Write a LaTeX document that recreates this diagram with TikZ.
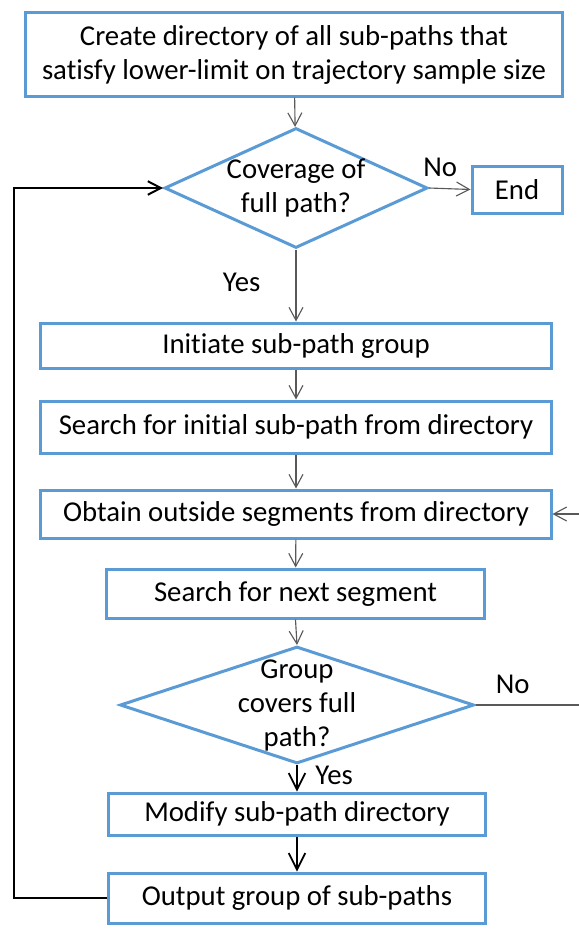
\documentclass[tikz,border=0pt]{standalone}
\usepackage{fontspec}
\setmainfont{Carlito}[Ligatures=NoCommon]
\usepackage{tikz}
\usetikzlibrary{arrows.meta,shapes.geometric}
\definecolor{boxblue}{RGB}{91,155,213}
\definecolor{linegray}{RGB}{89,89,89}
\tikzset{
  procbox/.style ={rectangle,draw=boxblue,line width=1.2pt,inner sep=0pt,align=center},
  decide/.style  ={diamond,draw=boxblue,line width=1.2pt,inner sep=0pt},
  dectext/.style ={align=center,inner sep=0pt},
  flow/.style    ={linegray,line width=0.45pt,-{Straight Barb[length=5.2pt,width=5.6pt]}},
  strong/.style  ={black,line width=0.7pt,-{Straight Barb[length=6.6pt,width=6.6pt]}},
  loopback/.style={black,line width=0.8pt,-{Straight Barb[length=5.2pt,width=5.4pt]}},
  answer/.style  ={inner sep=0pt,text=black},
}

\begin{document}
\begin{tikzpicture}[x=0.4pt,y=-0.4pt,font=\fontsize{11.5}{13.6}\selectfont]
  \useasboundingbox (0,0) rectangle (579,933);
  % steps and decisions
  \node[procbox,minimum width=214.4pt,minimum height=33.2pt] (create) at (294,54.5)
    {Create directory of all sub-paths that\\satisfy lower-limit on trajectory sample size};
  \node[decide,minimum width=105.2pt,minimum height=48pt,
        label={[dectext]center:{Coverage of\\full path?}}] (cover) at (296,188) {};
  \node[procbox,minimum width=36pt,minimum height=18.8pt] (end) at (517,189.5) {End};
  \node[procbox,minimum width=204pt,minimum height=18pt] (init) at (296,345.5) {Initiate sub-path group};
  \node[procbox,minimum width=204pt,minimum height=20.8pt] (first) at (296,427) {Search for initial sub-path from directory};
  \node[procbox,minimum width=204pt,minimum height=19.2pt] (obtain) at (296,514) {Obtain outside segments from directory};
  \node[procbox,minimum width=150.8pt,minimum height=19.6pt] (next) at (295.5,593.5) {Search for next segment};
  \node[decide,minimum width=141.6pt,minimum height=46.8pt,
        label={[dectext]center:{Group\\covers full\\path?}}] (covers) at (297,705) {};
  \node[procbox,minimum width=150.4pt,minimum height=16.8pt] (modify) at (297,814) {Modify sub-path directory};
  \node[procbox,minimum width=150.4pt,minimum height=20pt] (output) at (297,898) {Output group of sub-paths};
  % turning points of the two loops
  \coordinate (leftturn) at (14,898);
  \coordinate (rightturn) at (585,705);
  % connectors
  \draw[flow] (create) -- (cover);
  \draw[flow] (cover.east) -- node[answer,above=4.4pt,pos=0.27]{No} (end.west);
  \draw[flow] (cover.south) -- node[answer,left=14pt,pos=0.45]{Yes} (init.north);
  \draw[flow] (init) -- (first);
  \draw[flow] (first) -- (obtain);
  \draw[flow] (obtain) -- (next);
  \draw[flow] (next.south) -- (covers.north);
  \draw[flow] (covers.east) -- node[answer,above=4.4pt,pos=0.34]{No} (rightturn) |- (obtain.east);
  \draw[strong] (covers.south) -- node[answer,right=7pt,pos=0.4]{Yes} (modify.north);
  \draw[strong] (modify) -- (output);
  \draw[loopback] (output.west) -- (leftturn) |- (cover.west);
\end{tikzpicture}
\end{document}
